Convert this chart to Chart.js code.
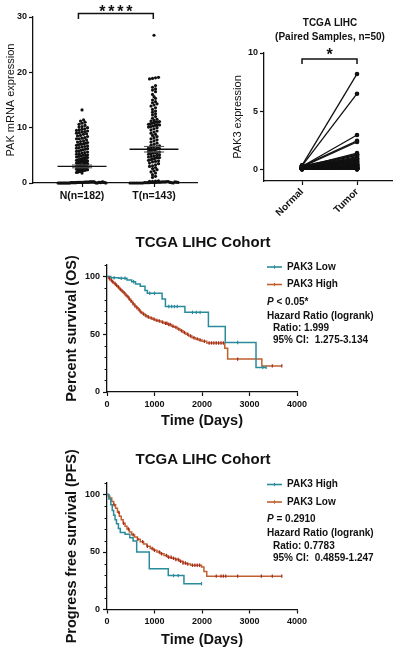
<!DOCTYPE html>
<html lang="en">
<head>
<meta charset="utf-8" />
<title>PAK3 expression and survival in TCGA LIHC</title>
<style>
  * { margin: 0; padding: 0; }
  body { width: 398px; height: 652px; background: #fff; position: relative; overflow: hidden; }
  .box { position: absolute; }
  #boxA { left: 0; top: 0; width: 200px; height: 215px; }
  #boxB { left: 200px; top: 0; width: 198px; height: 222px; }
  #boxC { left: 0; top: 215px; width: 398px; height: 215px; }
  #boxD { left: 0; top: 430px; width: 398px; height: 222px; }
</style>
</head>
<body>
<div class="box" id="boxA"><canvas id="chartA"></canvas></div>
<div class="box" id="boxB"><canvas id="chartB"></canvas></div>
<div class="box" id="boxC"><canvas id="chartC"></canvas></div>
<div class="box" id="boxD"><canvas id="chartD"></canvas></div>

<script src="https://cdn.jsdelivr.net/npm/chart.js"></script>
<script>
// ---- data: PAK mRNA, unpaired ----
const groupLabels = ["N(n=182)", "T(n=143)"];
const normalExpr = [
  0, 0, 0, 0, 0, 0, 0, 0, 0, 0, 0, 0, 0.05, 0.05, 0.05, 0.05, 0.05, 0.05, 0.1, 0.1,
  0.1, 0.1, 0.1, 0.1, 0.1, 0.15, 0.15, 0.15, 0.15, 0.15, 0.2, 0.2, 0.2, 0.2, 0.2, 0.05,
  0, 0, 0.1, 0.1, 0.05, 0.15, 0.2, 0.1, 0.05, 0,
  1.8, 1.9, 2.0, 2.0, 2.1, 2.1, 2.2, 2.2, 2.2, 2.3, 2.3, 2.3, 2.4, 2.4, 2.4, 2.5, 2.5, 2.5, 2.6, 2.6,
  2.6, 2.7, 2.7, 2.7, 2.8, 2.8, 2.8, 2.9, 2.9, 3.0, 3.0, 3.0, 3.0, 3.1, 3.1, 3.1, 3.2, 3.2, 3.2, 3.3,
  3.3, 3.4, 3.4, 3.4, 3.5, 3.5, 3.5, 3.6, 3.6, 3.6, 3.7, 3.7, 3.8, 3.8, 3.8, 3.9, 3.9, 3.9, 4.0, 4.0,
  4.0, 4.1, 4.1, 4.2, 4.2, 4.2, 4.3, 4.3, 4.4, 4.4, 4.4, 4.5, 4.5, 4.6, 4.6, 4.7, 4.8, 4.9, 5.0, 5.0,
  5.1, 5.2, 5.3, 5.4, 5.5, 5.6, 5.7, 5.8, 5.9, 6.0, 6.1, 6.2, 6.3, 6.4, 6.5,
  6.6, 6.7, 6.8, 6.9, 7.0, 7.0, 7.1, 7.2, 7.3, 7.4, 7.5, 7.6, 7.8, 8.0, 8.0, 8.1, 8.2, 8.4, 8.5, 8.6,
  8.8, 8.9, 9.0, 9.1, 9.2, 9.3, 9.4, 9.5, 9.6, 9.7, 9.8, 10.0, 10.1, 10.2, 10.4, 10.6, 10.8, 11.0, 11.2, 11.4,
  13.2
];
const tumorExpr = [
  0, 0, 0, 0, 0, 0, 0, 0, 0, 0.05, 0.05, 0.05, 0.05, 0.1, 0.1, 0.1, 0.1, 0.15, 0.15, 0.15,
  0.2, 0.2, 0.2, 0.25, 0.25, 0.3, 0.3, 0.35, 0.4, 0.1, 0.05, 0, 0.2, 0.15, 0.1,
  1.0, 1.2, 1.5, 1.8, 2.0, 2.2, 2.4, 2.6, 2.8, 3.0, 3.1, 3.3, 3.5, 3.6, 3.8, 3.9, 4.0, 4.1, 4.2, 4.3,
  4.4, 4.5, 4.6, 4.6, 4.7,
  4.8, 4.9, 5.0, 5.1, 5.2, 5.3, 5.4, 5.5, 5.5, 5.6, 5.7, 5.8, 5.9, 6.0, 6.0, 6.1, 6.2, 6.2, 6.3, 6.4,
  6.5, 6.6, 6.7, 6.8, 7.0, 7.2, 7.4, 7.6, 7.8, 8.0, 8.2, 8.4, 8.6, 8.8, 9.0,
  9.2, 9.4, 9.6, 9.8, 10.0, 10.1, 10.2, 10.3, 10.4, 10.5, 10.5, 10.6, 10.7, 10.8, 10.9, 11.0, 11.0, 11.1, 11.2, 11.3,
  11.5, 11.7, 12.0, 12.3, 12.5, 12.8, 13.0, 13.3, 13.6, 13.9, 14.1, 14.3, 14.5, 14.7, 15.0,
  15.3, 15.6, 16.0, 16.5, 16.8, 17.0, 17.3, 17.6, 18.8, 18.9, 19.0, 19.1,
  26.7
];
const groupMean = [3.0, 6.1];
const groupSem = [0.25, 0.5];
const exprTicks = [0, 10, 20, 30];

// ---- data: paired samples ----
const pairedLabels = ["Normal", "Tumor"];
const pairedNormal = [
  0.35, 0.3, 0.25, 0.28, 0.22, 0.2, 0.18, 0.3, 0.15, 0.12, 0.1, 0.25, 0.2, 0.15, 0.1, 0.08, 0.05, 0.3, 0.22, 0.18,
  0.12, 0.1, 0.06, 0.04, 0.02, 0.15, 0.2, 0.1, 0.05, 0.08, 0.12, 0.03, 0.07, 0.1, 0.16, 0.05, 0.02, 0.09, 0.11, 0.06,
  0.04, 0.13, 0.01, 0.08, 0.03, 0.05, 0.02, 0.1, 0.06, 0.04
];
const pairedTumor = [
  8.2, 6.5, 2.95, 2.45, 2.35, 1.4, 1.3, 1.25, 1.2, 1.1, 1.0, 0.95, 0.9, 0.85, 0.8, 0.75, 0.7, 0.65, 0.6, 0.55,
  0.5, 0.48, 0.45, 0.42, 0.4, 0.38, 0.35, 0.33, 0.3, 0.28, 0.26, 0.24, 0.22, 0.2, 0.18, 0.16, 0.15, 0.14, 0.12, 0.1,
  0.1, 0.08, 0.07, 0.06, 0.05, 0.04, 0.03, 0.02, 0.01, 0.0
];
const pairedTicks = [0, 5, 10];

// ---- data: overall survival (OS) ----
const osLowTime = [0, 80, 250, 420, 520, 600, 700, 800, 850, 1160, 1230, 1640, 2135, 2490, 3137, 3350];
const osLowSurv = [100, 99, 98.5, 97, 95.5, 93.5, 91.5, 88, 85.5, 80.5, 74, 69, 56.8, 42.9, 21.3, 21.3];
const osLowCensor = [150, 300, 380, 560, 900, 1000, 1300, 1360, 1420, 1480, 1800, 1880, 1960, 2750, 3280, 3350];
const osHighTime = [0, 30, 60, 100, 140, 180, 220, 260, 300, 340, 380, 420, 460, 500, 540, 580, 620, 660, 700, 750,
  800, 850, 900, 960, 1020, 1080, 1140, 1200, 1280, 1360, 1420, 1480, 1540, 1600, 1660, 1720, 1790, 1860, 1930, 2000,
  2100, 2480, 2540, 3260, 3680];
const osHighSurv = [100, 98.5, 97, 95.5, 94, 92.5, 91, 89, 87.5, 86, 84, 82.5, 80.5, 78.5, 76.5, 74.5, 73, 71, 69, 67.5,
  66, 65, 64, 63, 62, 61.5, 60.5, 59.5, 58.5, 57, 56, 54.5, 53, 51.5, 50, 48.5, 47, 46, 45, 44,
  42.5, 38, 28.5, 22.6, 22.6];
const osHighCensor = [50, 90, 120, 170, 200, 240, 280, 320, 360, 400, 440, 470, 510, 550, 590, 630, 680, 720, 770, 820,
  870, 930, 990, 1050, 1100, 1170, 1230, 1260, 1300, 1330, 1390, 1450, 1510, 1570, 1630, 1700, 1760, 1830, 1900, 1960,
  2050, 2150, 2200, 2250, 2300, 2350, 2400, 2450, 2750, 3480, 3680];

// ---- data: progress free survival (PFS) ----
const pfsHighTime = [0, 40, 80, 110, 140, 170, 200, 240, 280, 380, 480, 550, 625, 890, 1290, 1620, 1990];
const pfsHighSurv = [100, 96, 91, 86, 82, 78, 74.5, 70.5, 67, 65.5, 62.5, 59.5, 50, 35.5, 29.5, 22.5, 22.5];
const pfsHighCensor = [1400, 1500, 1990];
const pfsLowTime = [0, 30, 60, 100, 140, 180, 220, 260, 300, 340, 380, 420, 470, 520, 580, 640, 700, 770, 840, 910,
  980, 1050, 1120, 1200, 1280, 1360, 1440, 1520, 1600, 1680, 1760, 1990, 2040, 2100, 3680];
const pfsLowSurv = [100, 98.5, 97, 94, 91, 88, 84.5, 81, 78, 75, 72.5, 70, 67.5, 65, 63, 61, 59, 57, 55, 53,
  51.5, 50, 48.5, 47, 45.5, 44.5, 43.5, 42, 40.5, 39.5, 38.5, 37, 33, 29, 29];
const pfsLowCensor = [150, 250, 350, 450, 550, 650, 750, 850, 950, 1000, 1100, 1150, 1250, 1300, 1350, 1400, 1450, 1500,
  1550, 1600, 1650, 1700, 1800, 1850, 1900, 1950, 2300, 2400, 2450, 2500, 2750, 3250, 3480, 3680];
const timeTicks = [0, 1000, 2000, 3000, 4000];
const survTicks = [0, 50, 100];

// ---- shared style ----
const INK = "#111";
const TEAL = "#2a8b9c";
const RUST = "#c0602f";
const RUST_DARK = "#a3291c";
const FAMILY = "'Liberation Sans', Arial, Helvetica, sans-serif";

Chart.defaults.font.family = FAMILY;
Chart.defaults.color = INK;
Chart.defaults.animation = false;
Chart.defaults.responsive = true;
Chart.defaults.maintainAspectRatio = false;
Chart.defaults.plugins.legend.display = false;
Chart.defaults.plugins.tooltip.enabled = false;

const tickGrid = { drawOnChartArea: false, tickLength: 4, tickColor: INK, tickWidth: 1.2 };
const axisBorder = { color: INK, width: 1.3 };
const setTicks = (list) => (scale) => { scale.ticks = list.map((v) => ({ value: v })); };

// beeswarm-like placement of dots in a column (no randomness)
function swarm(values, center, yPx, xPx, dot, halfWide, halfNarrow) {
  const bins = new Map();
  values.forEach((v) => {
    const b = Math.round((v * yPx) / dot);
    if (!bins.has(b)) bins.set(b, []);
    bins.get(b).push(v);
  });
  const pts = [];
  bins.forEach((list, b) => {
    const n = list.length;
    const maxHalf = b <= 1 ? halfWide : halfNarrow;
    const step = n > 1 ? Math.min(dot, (2 * maxHalf) / (n - 1)) : 0;
    list.forEach((v, i) => pts.push({ x: center + ((i - (n - 1) / 2) * step) / xPx, y: v }));
  });
  return pts;
}

function hLine(x0, x1, y, color, width) {
  return {
    data: [{ x: x0, y: y }, { x: x1, y: y }],
    showLine: true, borderColor: color, borderWidth: width, pointRadius: 0, order: 0, clip: false
  };
}

// ---- panel A: dot plot ----
const dotsA = [];
[normalExpr, tumorExpr].forEach((vals, g) => {
  dotsA.push({
    data: swarm(vals, g + 1, 166 / 30, 72, 3, 24, 5.5),
    pointRadius: 1.6, pointBackgroundColor: INK, pointBorderWidth: 0, order: 1, clip: false
  });
});
groupMean.forEach((m, g) => {
  dotsA.push(hLine(g + 1 - 0.34, g + 1 + 0.34, m, INK, 1.4));
  dotsA.push(hLine(g + 1 - 0.14, g + 1 + 0.14, m + groupSem[g], "#555", 1.1));
  dotsA.push(hLine(g + 1 - 0.14, g + 1 + 0.14, m - groupSem[g], "#555", 1.1));
});

const starsA = {
  id: "starsA",
  afterDraw(chart) {
    const { ctx, scales: { x, y } } = chart;
    const x1 = x.getPixelForValue(0.95), x2 = x.getPixelForValue(1.99);
    const top = y.getPixelForValue(30) - 3.5;
    ctx.save();
    ctx.strokeStyle = INK;
    ctx.lineWidth = 1.5;
    ctx.beginPath();
    ctx.moveTo(x1, top + 5.5); ctx.lineTo(x1, top); ctx.lineTo(x2, top); ctx.lineTo(x2, top + 5.5);
    ctx.stroke();
    ctx.fillStyle = INK;
    ctx.font = "bold 16px " + FAMILY;
    ctx.textAlign = "center";
    ctx.textBaseline = "alphabetic";
    const mid = (x1 + x2) / 2;
    for (let i = 0; i < 4; i++) ctx.fillText("*", mid + (i - 1.5) * 9, top + 3);
    ctx.restore();
  }
};

new Chart(document.getElementById("chartA"), {
  type: "scatter",
  data: { datasets: dotsA },
  options: {
    layout: { padding: { left: 0, top: 17, right: 3, bottom: 0 }, autoPadding: false },
    scales: {
      x: {
        type: "linear", min: 0.319, max: 2.597,
        afterBuildTicks: setTicks([1, 2]),
        afterFit: (s) => { s.height = 32; },
        grid: tickGrid, border: axisBorder,
        ticks: { callback: (v) => groupLabels[v - 1], font: { size: 10.5, weight: "bold" }, padding: 3, autoSkip: false, maxRotation: 0 }
      },
      y: {
        min: 0, max: 30,
        afterBuildTicks: setTicks(exprTicks),
        afterFit: (s) => { s.width = 33; },
        grid: tickGrid, border: axisBorder,
        ticks: { font: { size: 9, weight: "bold" }, padding: 2 },
        title: { display: true, text: "PAK mRNA expression", font: { size: 11 }, padding: { top: 4, bottom: 0 } }
      }
    }
  },
  plugins: [starsA]
});

// ---- panel B: paired samples ----
const pairSets = pairedNormal.map((n, i) => ({
  data: [{ x: 0, y: n }, { x: 1, y: pairedTumor[i] }],
  showLine: true, borderColor: INK, borderWidth: 1.3,
  pointRadius: 2.3, pointBackgroundColor: INK, pointBorderWidth: 0, clip: false
}));

const decorB = {
  id: "decorB",
  afterDraw(chart) {
    const { ctx, scales: { x, y } } = chart;
    ctx.save();
    ctx.fillStyle = INK;
    ctx.textAlign = "center";
    ctx.textBaseline = "middle";
    ctx.font = "bold 10px " + FAMILY;
    ctx.fillText("TCGA LIHC", 130, 23);
    ctx.fillText("(Paired Samples, n=50)", 130, 37);
    const x1 = x.getPixelForValue(0), x2 = x.getPixelForValue(1);
    const top = y.getPixelForValue(10) + 6;
    ctx.strokeStyle = INK;
    ctx.lineWidth = 1.5;
    ctx.beginPath();
    ctx.moveTo(x1, top + 5); ctx.lineTo(x1, top); ctx.lineTo(x2, top); ctx.lineTo(x2, top + 5);
    ctx.stroke();
    ctx.font = "bold 16px " + FAMILY;
    ctx.textBaseline = "alphabetic";
    ctx.fillText("*", (x1 + x2) / 2, top + 1);
    ctx.restore();
  }
};

new Chart(document.getElementById("chartB"), {
  type: "scatter",
  data: { datasets: pairSets },
  options: {
    layout: { padding: { left: 0, top: 53, right: 6, bottom: 0 }, autoPadding: false },
    scales: {
      x: {
        type: "linear", min: -0.691, max: 1.636,
        afterBuildTicks: setTicks([0, 1]),
        afterFit: (s) => { s.height = 41; },
        grid: tickGrid, border: axisBorder,
        ticks: { callback: (v) => pairedLabels[v], font: { size: 10, weight: "bold" }, padding: 1, autoSkip: false, minRotation: 45, maxRotation: 45 }
      },
      y: {
        min: -1, max: 10,
        afterBuildTicks: setTicks(pairedTicks),
        afterFit: (s) => { s.width = 64; },
        grid: tickGrid, border: axisBorder,
        ticks: { font: { size: 9, weight: "bold" }, padding: 2 },
        title: { display: true, text: "PAK3 expression", font: { size: 11 }, padding: { top: 31, bottom: 0 } }
      }
    }
  },
  plugins: [decorB]
});

// ---- panels C and D: Kaplan-Meier ----
function survAt(times, survs, t) {
  let s = survs[0];
  for (let i = 0; i < times.length; i++) if (times[i] <= t) s = survs[i];
  return s;
}

function kmSets(curves) {
  const sets = [];
  curves.forEach((c) => {
    sets.push({
      data: c.time.map((t, i) => ({ x: t, y: c.surv[i] })),
      showLine: true, stepped: "before", borderColor: c.color, borderWidth: 1.5, pointRadius: 0, order: 2
    });
    sets.push({
      data: c.censor.map((t) => ({ x: t, y: survAt(c.time, c.surv, t) })),
      pointStyle: "line", rotation: 90, pointRadius: 1.7,
      pointBorderColor: c.tick, pointBorderWidth: 1.2, order: 1, clip: false
    });
  });
  return sets;
}

function kmDecor(key, o) {
  return {
    id: "km" + key,
    afterDraw(chart) {
      const { ctx, scales: { y } } = chart;
      ctx.save();
      ctx.strokeStyle = INK;
      ctx.lineWidth = 1;
      for (let v = 10; v <= 110; v += 10) {
        if (v % 50 === 0) continue;
        const py = Math.round(y.getPixelForValue(v)) + 0.5;
        ctx.beginPath(); ctx.moveTo(y.right - 2.5, py); ctx.lineTo(y.right, py); ctx.stroke();
      }
      ctx.fillStyle = INK;
      ctx.textBaseline = "middle";
      ctx.textAlign = "center";
      ctx.font = "bold 15px " + FAMILY;
      ctx.fillText("TCGA LIHC Cohort", 203, o.titleY);

      ctx.textAlign = "left";
      ctx.font = "bold 10px " + FAMILY;
      o.legend.forEach((item, i) => {
        const ly = o.y0 + i * 17.5;
        ctx.strokeStyle = item.color;
        ctx.lineWidth = 1.6;
        ctx.beginPath(); ctx.moveTo(267, ly); ctx.lineTo(282, ly); ctx.stroke();
        ctx.lineWidth = 1.1;
        ctx.beginPath(); ctx.moveTo(274.5, ly - 1.7); ctx.lineTo(274.5, ly + 1.7); ctx.stroke();
        ctx.fillText(item.label, 287, ly);
      });

      const sy = o.y0 + 35;
      ctx.font = "italic bold 10px " + FAMILY;
      ctx.fillText("P", 267, sy);
      const pw = ctx.measureText("P").width;
      ctx.font = "bold 10px " + FAMILY;
      ctx.fillText(o.pText, 267 + pw, sy);
      ctx.fillText("Hazard Ratio (logrank)", 267, sy + 14);
      ctx.fillText(o.ratio, 273, sy + 26.5);
      ctx.fillText(o.ci, 273, sy + 38.5);
      ctx.restore();
    }
  };
}

function kmOptions(padTop, xHeight, yTitle, xTitlePad) {
  return {
    layout: { padding: { left: 0, top: padTop, right: 101, bottom: 0 }, autoPadding: false },
    scales: {
      x: {
        type: "linear", min: 0, max: 4000,
        afterBuildTicks: setTicks(timeTicks),
        afterFit: (s) => { s.height = xHeight; },
        grid: tickGrid, border: axisBorder,
        ticks: { callback: (v) => String(v), font: { size: 9, weight: "bold" }, padding: 3, autoSkip: false, maxRotation: 0 },
        title: { display: true, text: "Time (Days)", font: { size: 14.5, weight: "bold" }, padding: { top: 0, bottom: xTitlePad } }
      },
      y: {
        min: 0, max: 110,
        afterBuildTicks: setTicks(survTicks),
        afterFit: (s) => { s.width = 107; },
        grid: tickGrid, border: axisBorder,
        ticks: { font: { size: 9, weight: "bold" }, padding: 3 },
        title: { display: true, text: yTitle, font: { size: 14.5, weight: "bold" }, padding: { top: 63, bottom: 0 } }
      }
    }
  };
}

new Chart(document.getElementById("chartC"), {
  type: "scatter",
  data: {
    datasets: kmSets([
      { time: osLowTime, surv: osLowSurv, censor: osLowCensor, color: TEAL, tick: TEAL },
      { time: osHighTime, surv: osHighSurv, censor: osHighCensor, color: RUST, tick: RUST_DARK }
    ])
  },
  options: kmOptions(50, 38, "Percent survival (OS)", 0),
  plugins: [kmDecor("C", {
    titleY: 28, y0: 52,
    legend: [{ label: "PAK3 Low", color: TEAL }, { label: "PAK3 High", color: RUST }],
    pText: " < 0.05*", ratio: "Ratio: 1.999", ci: "95% CI:  1.275-3.134"
  })]
});

new Chart(document.getElementById("chartD"), {
  type: "scatter",
  data: {
    datasets: kmSets([
      { time: pfsHighTime, surv: pfsHighSurv, censor: pfsHighCensor, color: TEAL, tick: TEAL },
      { time: pfsLowTime, surv: pfsLowSurv, censor: pfsLowCensor, color: RUST, tick: RUST_DARK }
    ])
  },
  options: kmOptions(53, 42.5, "Progress free survival (PFS)", 3),
  plugins: [kmDecor("D", {
    titleY: 30, y0: 54.5,
    legend: [{ label: "PAK3 High", color: TEAL }, { label: "PAK3 Low", color: RUST }],
    pText: " = 0.2910", ratio: "Ratio: 0.7783", ci: "95% CI:  0.4859-1.247"
  })]
});
</script>
</body>
</html>
